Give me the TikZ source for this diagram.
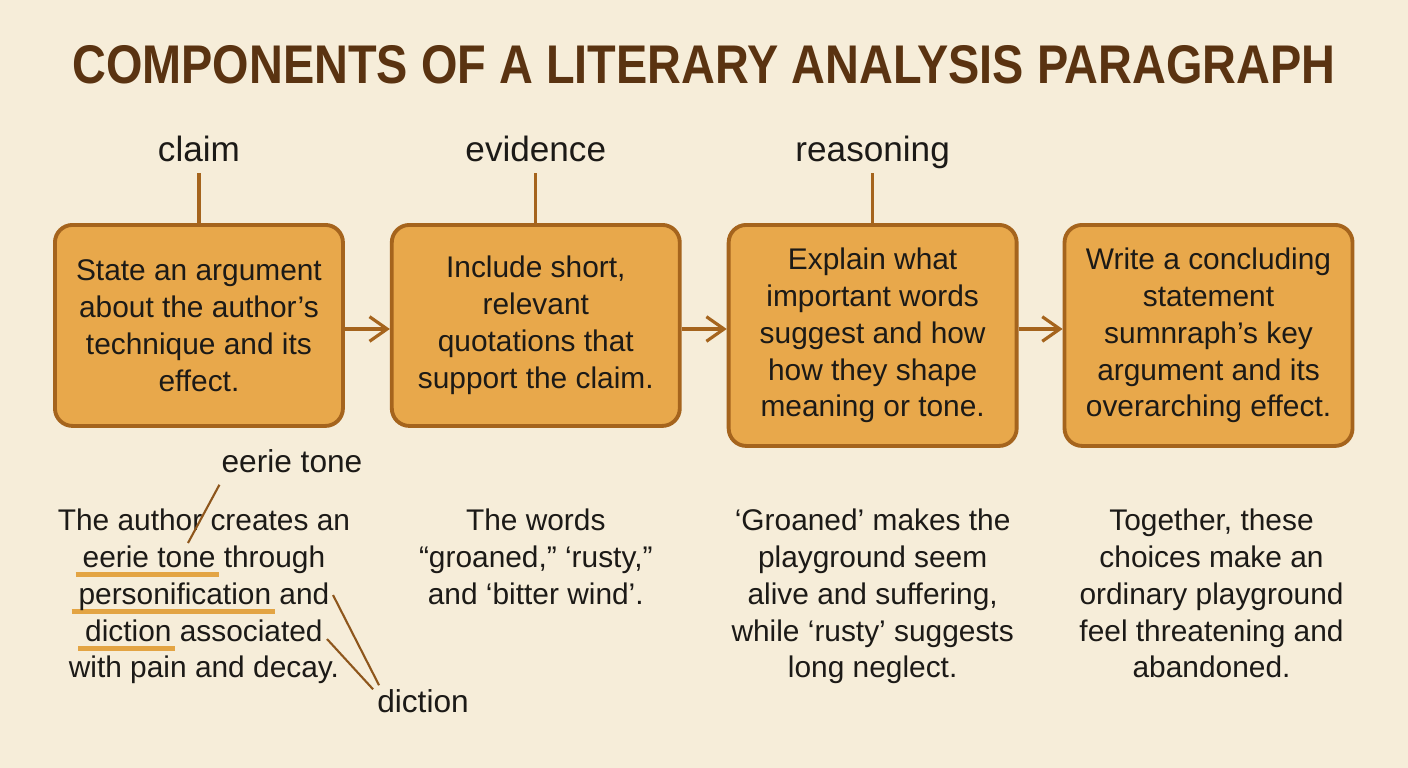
\documentclass[tikz,border=0pt]{standalone}
\usepackage{fontspec}
\setmainfont{Liberation Sans}
\newfontfamily\titlefont[FakeStretch=0.86]{Liberation Sans}
\usetikzlibrary{arrows.meta}
\usetikzlibrary{positioning}

\definecolor{paper}{HTML}{F6EDD9}
\definecolor{boxfill}{HTML}{E8A84B}
\definecolor{boxline}{HTML}{A5641D}
\definecolor{titlebrown}{HTML}{5A3311}
\definecolor{pointer}{HTML}{8E561C}
\definecolor{hiline}{HTML}{E3A443}
\definecolor{ink}{HTML}{1C1A17}

% orange underline below a word
\newcommand\orline[1]{{\setbox0\hbox{#1}\rlap{\kern-2pt\color{hiline}\rule[-0.32em]{\dimexpr\wd0+3pt\relax}{1.3pt}}\box0}}

\begin{document}
\begin{tikzpicture}
    [stagebox/.style={rectangle,rounded corners=5pt,draw=boxline,fill=boxfill,
      line width=1.1pt,minimum width=2.88cm,align=center,inner sep=0pt,
      text=ink,font=\fontsize{8.5pt}{10.5pt}\selectfont},
    tag/.style={font=\fontsize{10pt}{12pt}\selectfont,inner sep=1pt,text=ink,
      text height=0.72em,text depth=0.22em},
    note/.style={align=center,inner sep=0pt,anchor=north,text=ink,
      font=\fontsize{8.5pt}{10.5pt}\selectfont},
    flow/.style={draw=boxline,line width=0.9pt,-{Straight Barb[length=5pt,width=7pt]}},
    stem/.style={draw=boxline,line width=0.9pt},
    lead/.style={draw=pointer,line width=0.6pt}]

    \useasboundingbox[fill=paper] (0,0) rectangle (14.08,-7.68);

    \node[anchor=base,text=titlebrown,font=\titlefont\bfseries\fontsize{15.5pt}{18pt}\selectfont]
      (title) at (7.04,-0.84) {COMPONENTS OF A LITERARY ANALYSIS PARAGRAPH};

    % the four stages
    \node[stagebox,minimum height=2.01cm,anchor=north west] (claimbox) at (0.53,-2.23)
      {State an argument\\about the author’s\\technique and its\\effect.};
    \node[stagebox,minimum height=2.01cm,right=0.45cm of claimbox.north east,anchor=north west] (evidbox)
      {Include short,\\relevant\\quotations that\\support the claim.};
    \node[stagebox,minimum height=2.21cm,right=0.45cm of evidbox.north east,anchor=north west] (reasbox)
      {Explain what\\important words\\suggest and how\\how they shape\\meaning or tone.};
    \node[stagebox,minimum height=2.21cm,right=0.44cm of reasbox.north east,anchor=north west] (concbox)
      {Write a concluding\\statement\\sumnraph’s key\\argument and its\\overarching effect.};

    \draw[flow] (claimbox.east |- 0,-3.29) -- (evidbox.west |- 0,-3.29);
    \draw[flow] (evidbox.east |- 0,-3.29) -- (reasbox.west |- 0,-3.29);
    \draw[flow] (reasbox.east |- 0,-3.29) -- (concbox.west |- 0,-3.29);

    % labels above
    \node[tag,above=0.5cm of claimbox] (claim) {claim};
    \node[tag,above=0.5cm of evidbox]  (evidence) {evidence};
    \node[tag,above=0.5cm of reasbox.north] (reasoning) {reasoning};
    \draw[stem] (claim) -- (claimbox);
    \draw[stem] (evidence) -- (evidbox);
    \draw[stem] (reasoning) -- (reasbox);

    % examples below
    \node[note] (claimnote) at ([xshift=0.05cm]claimbox.center |- 0,-5.08)
      {The author creates an\\\orline{eerie tone} through\\\orline{personification} and\\\orline{diction} associated\\with pain and decay.};
    \node[note] (evidnote) at (evidbox.center |- 0,-5.08)
      {The words\\“groaned,” ‘rusty,”\\and ‘bitter wind’.};
    \node[note] (reasnote) at (reasbox.center |- 0,-5.08)
      {‘Groaned’ makes the\\playground seem\\alive and suffering,\\while ‘rusty’ suggests\\long neglect.};
    \node[note] (concnote) at ([xshift=0.03cm]concbox.center |- 0,-5.08)
      {Together, these\\choices make an\\ordinary playground\\feel threatening and\\abandoned.};

    \node[tag,font=\fontsize{9pt}{11pt}\selectfont] (eerie) at (2.92,-4.64) {eerie tone};
    \node[tag,font=\fontsize{9pt}{11pt}\selectfont] (diction) at (4.23,-7.04) {diction};

    \coordinate (eeriept) at (1.88,-5.43);
    \coordinate (dictpta) at (3.33,-5.95);
    \coordinate (dictptb) at (3.27,-6.39);
    \draw[lead] ([xshift=0.02cm]eerie.south west) -- (eeriept);
    \draw[lead] (dictpta) -- ([xshift=0.06cm,yshift=-0.02cm]diction.north west);
    \draw[lead] (dictptb) -- ([yshift=-0.06cm]diction.north west);

  \end{tikzpicture}
\end{document}
